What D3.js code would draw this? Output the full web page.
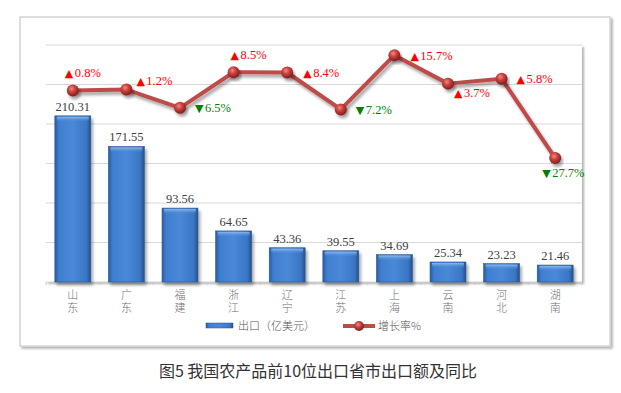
<!DOCTYPE html>
<html>
<head>
<meta charset="utf-8">
<script src="https://cdn.jsdelivr.net/npm/d3@7"></script>
<style>
  body { margin: 0; background: #fff; }
  svg { display: block; }
</style>
</head>
<body>
<svg width="621" height="393"></svg>
<script>
// data
var provinces = ["山东", "广东", "福建", "浙江", "辽宁", "江苏", "上海", "云南", "河北", "湖南"];
var exports = [210.31, 171.55, 93.56, 64.65, 43.36, 39.55, 34.69, 25.34, 23.23, 21.46];
var growth = [0.8, 1.2, -6.5, 8.5, 8.4, -7.2, 15.7, 3.7, 5.8, -27.7];
// label placement for each growth label (dx, dy from the point)
var labelPos = [[-8, -18], [10, -9], [15, 0], [-3, -18], [16, 0], [15, 0], [16, 0], [6, 9], [15, 0], [-13, 14]];

var svg = d3.select("svg");
var margin = { left: 46, top: 45, right: 582, bottom: 282 };

var defs = svg.append("defs");
var sh = defs.append("filter").attr("id", "shadow").attr("x", "-10%").attr("y", "-10%").attr("width", "130%").attr("height", "140%");
sh.append("feDropShadow").attr("dx", 2).attr("dy", 3).attr("stdDeviation", 1.5).attr("flood-color", "#000").attr("flood-opacity", 0.35);
var sh2 = defs.append("filter").attr("id", "frameShadow").attr("x", "-5%").attr("y", "-5%").attr("width", "110%").attr("height", "115%");
sh2.append("feDropShadow").attr("dx", 2).attr("dy", 2).attr("stdDeviation", 1.2).attr("flood-color", "#000").attr("flood-opacity", 0.3);

var barGrad = defs.append("linearGradient").attr("id", "barGrad").attr("x1", 0).attr("x2", 1).attr("y1", 0).attr("y2", 0);
barGrad.append("stop").attr("offset", "0%").attr("stop-color", "#2b5c9e");
barGrad.append("stop").attr("offset", "12%").attr("stop-color", "#3f7fd0");
barGrad.append("stop").attr("offset", "50%").attr("stop-color", "#4a89d8");
barGrad.append("stop").attr("offset", "88%").attr("stop-color", "#3a76c4");
barGrad.append("stop").attr("offset", "100%").attr("stop-color", "#24508c");
var topGrad = defs.append("linearGradient").attr("id", "topGrad").attr("x1", 0).attr("x2", 0).attr("y1", 0).attr("y2", 1);
topGrad.append("stop").attr("offset", "0%").attr("stop-color", "#8fb8ec");
topGrad.append("stop").attr("offset", "100%").attr("stop-color", "#4a89d8").attr("stop-opacity", 0);
var ball = defs.append("radialGradient").attr("id", "ball").attr("cx", "40%").attr("cy", "35%").attr("r", "65%");
ball.append("stop").attr("offset", "0%").attr("stop-color", "#f08a86");
ball.append("stop").attr("offset", "45%").attr("stop-color", "#c9403c");
ball.append("stop").attr("offset", "100%").attr("stop-color", "#7e1e1c");

// outer frame
svg.append("rect").attr("x", 20).attr("y", 17).attr("width", 590).attr("height", 329)
  .attr("fill", "#fff").attr("stroke", "#d4d4d4").attr("stroke-width", 1.5)
  .attr("filter", "url(#frameShadow)");

// plot area
svg.append("rect").attr("x", margin.left).attr("y", margin.top)
  .attr("width", margin.right - margin.left).attr("height", margin.bottom - margin.top)
  .attr("fill", "#fff").attr("filter", "url(#frameShadow)");

var x = d3.scaleBand().domain(provinces).range([margin.left, margin.right]).paddingInner(0.33).paddingOuter(0.165);
var xc = d3.scaleBand().domain(provinces).range([margin.left, margin.right]);
var y = d3.scaleLinear().domain([0, 300]).range([margin.bottom, margin.top]);
var y2 = d3.scaleLinear().domain([-80, 20]).range([margin.bottom, margin.top]);

// gridlines
svg.append("g").selectAll("line").data(y.ticks(6)).enter().append("line")
  .attr("x1", margin.left).attr("x2", margin.right)
  .attr("y1", function (d) { return y(d); }).attr("y2", function (d) { return y(d); })
  .attr("stroke", "#d9d9d9").attr("stroke-width", 1.2);

// bars
var bars = svg.append("g").selectAll("g").data(provinces).enter().append("g")
  .attr("filter", "url(#shadow)");
bars.append("rect")
  .attr("x", function (d) { return x(d); })
  .attr("y", function (d, i) { return y(exports[i]); })
  .attr("width", x.bandwidth())
  .attr("height", function (d, i) { return y(0) - y(exports[i]); })
  .attr("fill", "url(#barGrad)").attr("stroke", "#2a5590").attr("stroke-width", 0.6);
bars.append("rect")
  .attr("x", function (d) { return x(d) + 2; })
  .attr("y", function (d, i) { return y(exports[i]) + 1; })
  .attr("width", x.bandwidth() - 4)
  .attr("height", 5)
  .attr("fill", "url(#topGrad)");

// x axis
var xAxis = svg.append("g").attr("transform", "translate(0," + margin.bottom + ")");
xAxis.append("line").attr("x1", margin.left).attr("x2", margin.right)
  .attr("stroke", "#c8c8c8").attr("stroke-width", 2).attr("filter", "url(#frameShadow)");
xAxis.selectAll(".tk").data(provinces.concat(["end"])).enter().append("line")
  .attr("x1", function (d, i) { return margin.left + i * xc.step(); })
  .attr("x2", function (d, i) { return margin.left + i * xc.step(); })
  .attr("y1", 0).attr("y2", 3).attr("stroke", "#c8c8c8");

// category labels (vertical)
svg.append("g").selectAll("text").data(provinces).enter().append("text")
  .attr("x", function (d) { return xc(d) + xc.bandwidth() / 2; })
  .attr("y", 289)
  .attr("writing-mode", "tb")
  .attr("letter-spacing", 2)
  .attr("font-family", "Noto Sans CJK SC, sans-serif")
  .attr("font-size", 11)
  .attr("font-weight", 300)
  .attr("fill", "#707070")
  .text(function (d) { return d; });

// bar value labels
svg.append("g").selectAll("text").data(provinces).enter().append("text")
  .attr("x", function (d) { return x(d) + x.bandwidth() / 2; })
  .attr("y", function (d, i) { return y(exports[i]) - 5; })
  .attr("text-anchor", "middle")
  .attr("font-family", "Liberation Serif, serif")
  .attr("font-size", 12.5)
  .attr("fill", "#404040")
  .text(function (d, i) { return exports[i].toFixed(2); });

// growth line
var line = d3.line()
  .x(function (d, i) { return xc(provinces[i]) + xc.bandwidth() / 2; })
  .y(function (d) { return y2(d); });
svg.append("path").datum(growth).attr("d", line)
  .attr("fill", "none").attr("stroke", "#be4b48").attr("stroke-width", 4)
  .attr("stroke-linejoin", "round").attr("filter", "url(#shadow)");
svg.append("g").selectAll("circle").data(growth).enter().append("circle")
  .attr("cx", function (d, i) { return xc(provinces[i]) + xc.bandwidth() / 2; })
  .attr("cy", function (d) { return y2(d); })
  .attr("r", 6)
  .attr("fill", "url(#ball)")
  .attr("filter", "url(#shadow)");

// growth labels
var gl = svg.append("g").selectAll("text").data(growth).enter().append("text")
  .attr("x", function (d, i) { return xc(provinces[i]) + xc.bandwidth() / 2 + labelPos[i][0]; })
  .attr("y", function (d, i) { return y2(d) + labelPos[i][1] + 4.5; })
  .attr("font-family", "Liberation Serif, serif")
  .attr("font-size", 12.5)
  .attr("fill", function (d) { return d >= 0 ? "#ff0000" : "#008000"; });
gl.append("tspan")
  .attr("font-family", "DejaVu Sans, sans-serif")
  .attr("font-size", 11)
  .text(function (d) { return d >= 0 ? "▲" : "▼"; });
gl.append("tspan")
  .attr("dx", 1.5)
  .text(function (d) { return Math.abs(d).toFixed(1) + "%"; });

// legend
var lg = svg.append("g");
lg.append("rect").attr("x", 206).attr("y", 323).attr("width", 27).attr("height", 5)
  .attr("fill", "url(#barGrad)").attr("stroke", "#2a5590").attr("stroke-width", 0.5);
lg.append("text").attr("x", 238).attr("y", 330)
  .attr("font-family", "Noto Sans CJK SC, sans-serif").attr("font-size", 11).attr("font-weight", 300)
  .attr("fill", "#555").text("出口（亿美元）");
lg.append("line").attr("x1", 343).attr("x2", 375).attr("y1", 326).attr("y2", 326)
  .attr("stroke", "#be4b48").attr("stroke-width", 4);
lg.append("circle").attr("cx", 359).attr("cy", 326).attr("r", 5).attr("fill", "url(#ball)");
lg.append("text").attr("x", 378).attr("y", 330)
  .attr("font-family", "Noto Sans CJK SC, sans-serif").attr("font-size", 11).attr("font-weight", 300)
  .attr("fill", "#555").text("增长率%");

// title
svg.append("text").attr("x", 318).attr("y", 377).attr("text-anchor", "middle")
  .attr("font-family", "Noto Sans CJK SC, sans-serif").attr("font-size", 16)
  .attr("fill", "#333").text("图5 我国农产品前10位出口省市出口额及同比");
</script>
</body>
</html>
